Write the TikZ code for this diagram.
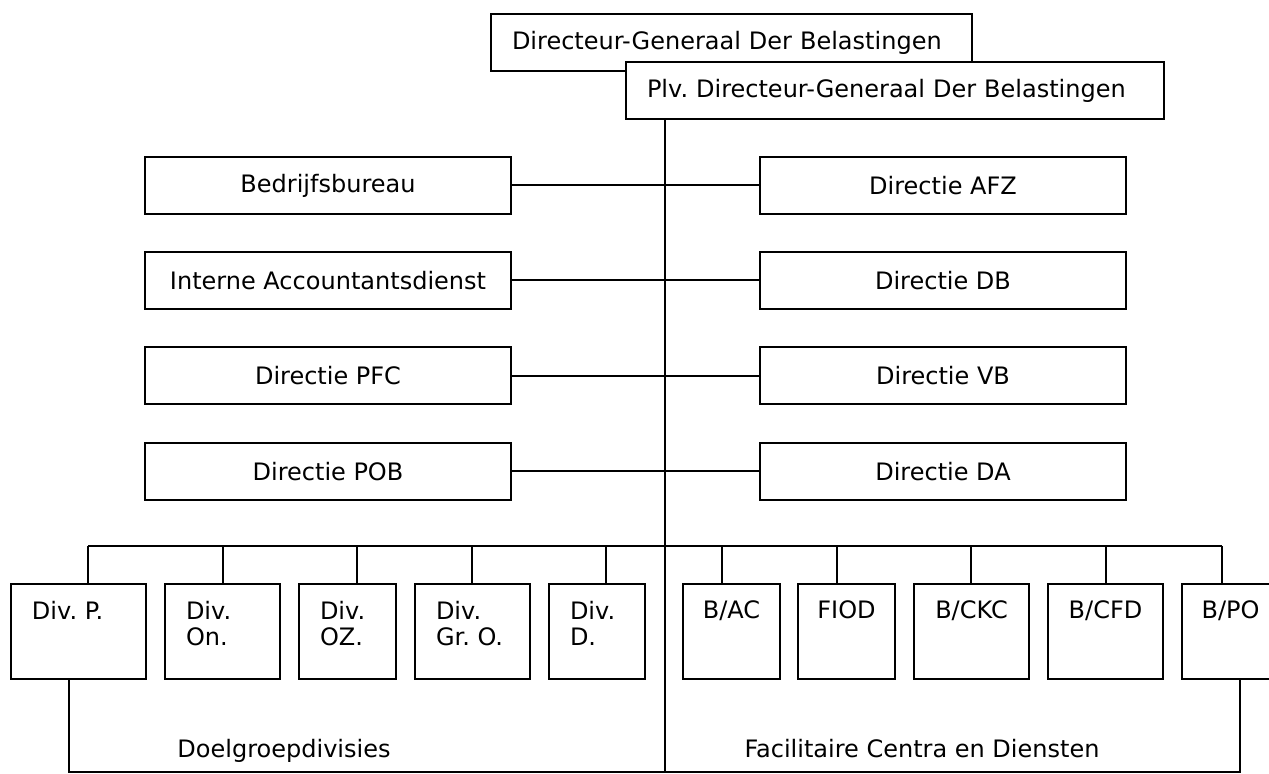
\documentclass[tikz,border=0pt]{standalone}
\usepackage{fontspec}
\setmainfont{DejaVu Sans}
\frenchspacing

\begin{document}
\begin{tikzpicture}[x=0.5pt, y=-0.5pt, line width=1pt,
	every node/.append style={font=\fontsize{12}{13}\selectfont},
	topbox/.style={draw=black, fill=white, minimum height=28.5pt, inner xsep=10.5pt, text width=#1, align=left},
	staffbox/.style={draw=black, minimum width=183pt, minimum height=28.5pt},
	divbox/.style 2 args={draw=black, minimum width=#1, minimum height=47.5pt,
		label={[anchor=north west, inner sep=0pt, xshift=10.5pt, yshift=-8.5pt, align=left]north west:#2}},
	fcbox/.style 2 args={draw=black, minimum width=#1, minimum height=47.5pt,
		label={[anchor=north, inner sep=0pt, yshift=-8.5pt]north:#2}}]
	
	\useasboundingbox (0,0) rectangle (1269,774);
	\clip (0,0) rectangle (1269,774);
	
	\node[topbox=219.5pt] (dg)  at (731.5, 42.5) {Directeur-Generaal Der Belastingen};
	\node[topbox=248pt]   (plv) at (895, 90.5)   {Plv. Directeur-Generaal Der Belastingen};
	
	\node[staffbox] (bedrijf) at (328, 185.5) {Bedrijfsbureau};
	\node[staffbox] (iad)     at (328, 280.5) {Interne Accountantsdienst};
	\node[staffbox] (pfc)     at (328, 376)   {Directie PFC};
	\node[staffbox] (pob)     at (328, 471.5) {Directie POB};
	\node[staffbox] (afz)     at (943, 185.5) {Directie AFZ};
	\node[staffbox] (db)      at (943, 280.5) {Directie DB};
	\node[staffbox] (vb)      at (943, 376)   {Directie VB};
	\node[staffbox] (da)      at (943, 471.5) {Directie DA};
	
	\node[divbox={67.5pt}{Div. P.}]        (divp)   at (78.5, 631.5)  {};
	\node[divbox={57.5pt}{Div.\\On.}]      (divon)  at (222.5, 631.5) {};
	\node[divbox={48.5pt}{Div.\\OZ.}]      (divoz)  at (347.5, 631.5) {};
	\node[divbox={57.5pt}{Div.\\Gr. O.}]   (divgro) at (472.5, 631.5) {};
	\node[divbox={48pt}{Div.\\D.}]         (divd)   at (597, 631.5)   {};
	\node[fcbox={48.5pt}{B/AC}]            (bac)    at (731.5, 631.5) {};
	\node[fcbox={48.5pt}{FIOD}]            (fiod)   at (846.5, 631.5) {};
	\node[fcbox={57.5pt}{B/CKC}]           (bckc)   at (971.5, 631.5) {};
	\node[fcbox={57.5pt}{B/CFD}]           (bcfd)   at (1105.5, 631.5) {};
	\node[fcbox={48.5pt}{B/PO}]            (bpo)    at (1230.5, 631.5) {};
	
	\node[anchor=base] (doelgroep)  at (284, 757) {Doelgroepdivisies};
	\node[anchor=base] (facilitair) at (922, 757) {Facilitaire Centra en Diensten};
	
	% spine and staff lines
	\coordinate (spine) at (665, 772);
	\draw (plv.south -| spine) -- (spine);
	\foreach \l/\r in {bedrijf/afz, iad/db, pfc/vb, pob/da}
		\draw (\l.east) -- (\r.west);
	
	% bus to the units
	\foreach \x/\n in {88/divp, 223/divon, 357/divoz, 472/divgro, 606/divd, 722/bac, 837/fiod, 971/bckc, 1106/bcfd, 1222/bpo} {
		\coordinate (tap-\n) at (\x, 546);
		\draw (tap-\n) -- (tap-\n |- \n.north);
	}
	\draw (tap-divp) -- (tap-bpo);
	
	% group brackets
	\coordinate (lfoot) at (69, 772);
	\coordinate (rfoot) at (1240, 772);
	\draw (lfoot |- divp.south) -- (lfoot) -- (rfoot) -- (rfoot |- bpo.south);
	
\end{tikzpicture}
\end{document}
